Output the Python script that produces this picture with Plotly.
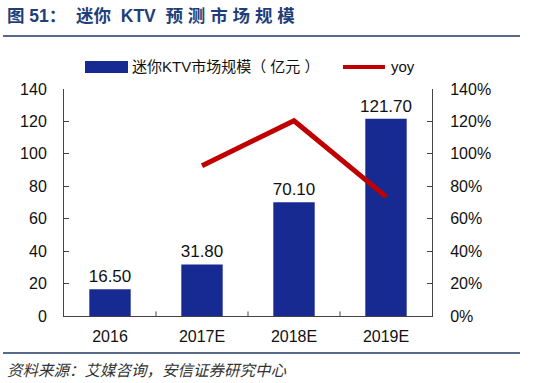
import plotly.graph_objects as go

categories = ["2016", "2017E", "2018E", "2019E"]
market_size = [16.50, 31.80, 70.10, 121.70]
yoy_categories = ["2017E", "2018E", "2019E"]
yoy = [0.927, 1.204, 0.736]
left_ticks = [0, 20, 40, 60, 80, 100, 120, 140]
right_ticks = [0, 0.2, 0.4, 0.6, 0.8, 1.0, 1.2, 1.4]

BAR_COLOR = "#172A92"
LINE_COLOR = "#C00000"
FONT = "Liberation Sans, Arial, Noto Sans CJK SC, sans-serif"
CJK = "Liberation Sans, Noto Sans CJK SC, sans-serif"

W, H = 550, 383
L, R, T, B = 64, 118, 89, 67

fig = go.Figure()
fig.add_trace(go.Bar(
    x=categories, y=market_size, name="迷你KTV市场规模（亿元）",
    marker=dict(color=BAR_COLOR, line=dict(width=0)),
    width=0.45,
    text=[f"{v:.2f}" for v in market_size], textposition="outside",
    textfont=dict(family=FONT, size=17, color="#111"),
    constraintext="none",
    cliponaxis=False, showlegend=False,
))
fig.add_trace(go.Scatter(
    x=yoy_categories, y=yoy, name="yoy", yaxis="y2", mode="lines",
    line=dict(color=LINE_COLOR, width=5), showlegend=False,
))


def pap(xp, yp):
    return (xp - L) / (W - L - R), (H - B - yp) / (H - T - B)


x0, y0 = pap(3, 36)
x1, _ = pap(520, 36)
_, yf = pap(0, 353)
lx0, ly0 = pap(85, 73)
lx1, ly1 = pap(128, 61)
mx0, my = pap(343, 67)
mx1, _ = pap(385, 67)

shapes = [
    dict(type="line", xref="paper", yref="paper", x0=x0, x1=x1, y0=y0, y1=y0,
         line=dict(color="#1F3864", width=1.5)),
    dict(type="line", xref="paper", yref="paper", x0=x0, x1=x1, y0=yf, y1=yf,
         line=dict(color="#1F3864", width=1.5)),
    dict(type="rect", xref="paper", yref="paper", x0=lx0, x1=lx1, y0=ly0, y1=ly1,
         fillcolor=BAR_COLOR, line=dict(width=0)),
    dict(type="line", xref="paper", yref="paper", x0=mx0, x1=mx1, y0=my, y1=my,
         line=dict(color=LINE_COLOR, width=4)),
]

annotations = []
x, y = pap(5, 16)
annotations.append(dict(text="<b>图 51：  迷你  KTV  预 测 市 场 规 模</b>", x=x, y=y,
                        xref="paper", yref="paper", xanchor="left", yanchor="middle",
                        showarrow=False, font=dict(family=CJK, size=17.5, color="#1F3F7A")))
x, y = pap(130, 67)
annotations.append(dict(text="迷你KTV市场规模（ 亿元 ）", x=x, y=y,
                        xref="paper", yref="paper", xanchor="left", yanchor="middle",
                        showarrow=False, font=dict(family=CJK, size=15, color="#111")))
x, y = pap(389, 67)
annotations.append(dict(text="yoy", x=x, y=y,
                        xref="paper", yref="paper", xanchor="left", yanchor="middle",
                        showarrow=False, font=dict(family=CJK, size=15, color="#111")))
x, y = pap(5, 370)
annotations.append(dict(text="<i>资料来源：艾媒咨询，安信证券研究中心</i>", x=x, y=y,
                        xref="paper", yref="paper", xanchor="left", yanchor="middle",
                        showarrow=False, font=dict(family=CJK, size=15.5, color="#333")))

fig.update_layout(
    width=W, height=H,
    margin=dict(l=L, r=R, t=T, b=B, pad=0),
    paper_bgcolor="white", plot_bgcolor="white",
    showlegend=False,
    font=dict(family=FONT, size=16, color="#111"),
    xaxis=dict(
        type="category", categoryorder="array", categoryarray=categories,
        range=[-0.5, 3.5],
        showline=True, linecolor="#444", linewidth=1,
        ticks="", showgrid=False, tickfont=dict(size=16), ticklabelstandoff=6,
    ),
    yaxis=dict(
        range=[0, 140], tickvals=left_ticks, showgrid=False, zeroline=False,
        showline=True, linecolor="#444", linewidth=1,
        ticks="inside", ticklen=5, tickcolor="#444",
        tickfont=dict(size=16), ticklabelstandoff=13,
    ),
    yaxis2=dict(
        range=[0, 1.4], tickvals=right_ticks, tickformat=".0%",
        overlaying="y", side="right", showgrid=False, zeroline=False,
        showline=True, linecolor="#444", linewidth=1,
        ticks="inside", ticklen=5, tickcolor="#444",
        tickfont=dict(size=16), ticklabelstandoff=14,
    ),
    shapes=shapes,
    annotations=annotations,
)

for i in range(1, len(categories)):
    fig.add_shape(type="line", xref="x", yref="paper",
                  x0=i - 0.5, x1=i - 0.5, y0=0, y1=0.02,
                  line=dict(color="#444", width=1))

fig.write_html("out.html", config={"displayModeBar": False},
               post_script="document.body.style.margin='0px';document.body.style.overflow='hidden';")
